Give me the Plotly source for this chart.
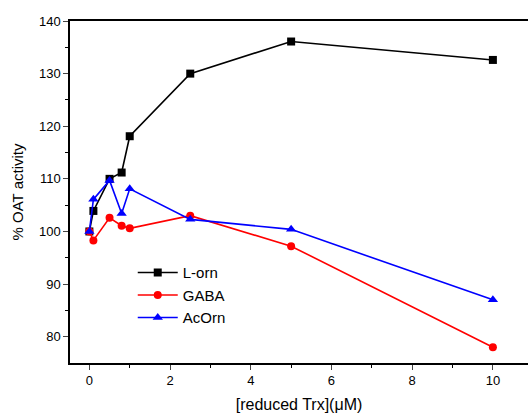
import plotly.graph_objects as go

x_vals = [0, 0.1, 0.5, 0.8, 1, 2.5, 5, 10]
l_orn = [100, 103.9, 110.0, 111.2, 118.1, 130.0, 136.1, 132.6]
gaba = [100, 98.3, 102.6, 101.1, 100.6, 103.0, 97.2, 78.0]
acorn = [100, 106.1, 109.7, 103.4, 108.1, 102.3, 100.4, 87.0]

fig = go.Figure()
fig.add_trace(go.Scatter(x=x_vals, y=l_orn, name="L-orn", mode="lines+markers",
                         line=dict(color="black", width=1.6),
                         marker=dict(symbol="square", size=8, color="black")))
fig.add_trace(go.Scatter(x=x_vals, y=gaba, name="GABA", mode="lines+markers",
                         line=dict(color="red", width=1.6),
                         marker=dict(symbol="circle", size=8, color="red")))
fig.add_trace(go.Scatter(x=x_vals, y=acorn, name="AcOrn", mode="lines+markers",
                         line=dict(color="blue", width=1.6),
                         marker=dict(symbol="triangle-up", size=9, color="blue")))

fig.update_layout(
    width=528, height=414,
    margin=dict(l=70, r=0, t=21, b=51),
    paper_bgcolor="white", plot_bgcolor="white",
    font=dict(family="Liberation Sans, Arial, sans-serif", size=13, color="black"),
    legend=dict(x=0.137, y=0.312, xanchor="left", yanchor="top",
                font=dict(size=15), bgcolor="rgba(0,0,0,0)",
                tracegroupgap=0, itemwidth=40),
    showlegend=True,
)
fig.update_xaxes(range=[-0.48, 10.87], tickvals=[0, 2, 4, 6, 8, 10],
                 ticks="outside", ticklen=5, tickwidth=1.2,
                 minor=dict(tickvals=[1, 3, 5, 7, 9], ticks="outside", ticklen=3, tickcolor="black"),
                 showline=True, linecolor="black", linewidth=1.5, mirror=True,
                 showgrid=False, zeroline=False,
                 title=dict(text="[reduced Trx](μM)", font=dict(size=16), standoff=11))
fig.update_yaxes(range=[75, 140], tickvals=[80, 90, 100, 110, 120, 130, 140],
                 ticks="outside", ticklen=5, tickwidth=1.2,
                 minor=dict(tickvals=[85, 95, 105, 115, 125, 135], ticks="outside", ticklen=3, tickcolor="black"),
                 showline=True, linecolor="black", linewidth=1.5,
                 showgrid=False, zeroline=False,
                 title=dict(text="% OAT activity", font=dict(size=15), standoff=12))

fig.write_html("out.html")
